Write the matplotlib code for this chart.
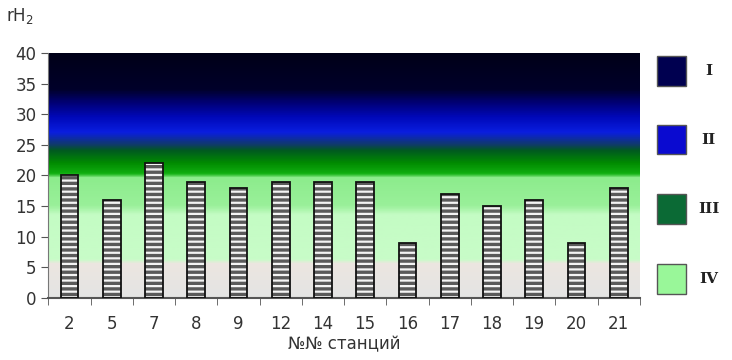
import numpy as np
import matplotlib
matplotlib.use("Agg")
import matplotlib.pyplot as plt
from matplotlib.colors import LinearSegmentedColormap
from matplotlib.patches import Rectangle

stations = ["2", "5", "7", "8", "9", "12", "14", "15", "16", "17", "18", "19", "20", "21"]
rh2 = [20, 16, 22, 19, 18, 19, 19, 19, 9, 17, 15, 16, 9, 18]
zone_labels = ["I", "II", "III", "IV"]
zone_colors = ["#000050", "#0a0ad0", "#0b6a35", "#99f799"]

# background gradient stops (rH2 value, colour)
grad_stops = [(0, "#e4e4e4"), (5.5, "#ece6e0"), (6.2, "#c8fcc8"), (13.5, "#c4fcc4"),
              (15, "#9af09a"), (19.6, "#8cec8c"), (20.2, "#10b010"), (22, "#008a00"),
              (24, "#005a20"), (25, "#103a6a"), (27, "#0a1ee0"), (29.5, "#0008b8"),
              (32, "#000070"), (34, "#00002a"), (40, "#000018")]

fig = plt.figure(figsize=(7.32, 3.6), dpi=100)
ax = fig.add_axes([0.066, 0.172, 0.808, 0.681])

x = np.arange(len(stations))
cmap = LinearSegmentedColormap.from_list("rh", [(v / 40, c) for v, c in grad_stops])
grad = np.linspace(0, 1, 400).reshape(-1, 1)
ax.imshow(grad, cmap=cmap, origin="lower", aspect="auto",
          extent=[-0.5, len(stations) - 0.5, 0, 40], zorder=0)

plt.rcParams["hatch.linewidth"] = 1.6
ax.bar(x, rh2, width=0.42, color="#5a5a5a", edgecolor="#f4f4f4", hatch="---", linewidth=0, zorder=2)
ax.bar(x, rh2, width=0.42, facecolor="none", edgecolor="#111111", linewidth=1.3, zorder=3)

ax.set_xlim(-0.5, len(stations) - 0.5)
ax.set_ylim(0, 40)
ax.set_yticks(range(0, 41, 5))
ax.set_xticks(x)
ax.set_xticklabels(stations)
ax.set_xticks(np.arange(-0.5, len(stations), 1), minor=True)
ax.tick_params(axis="x", which="major", length=0, pad=12, labelsize=12, labelcolor="#333333")
ax.tick_params(axis="x", which="minor", length=5, color="#555555")
ax.tick_params(axis="y", length=5, labelsize=12, labelcolor="#333333", color="#555555")
for s in ["top", "right"]:
    ax.spines[s].set_visible(False)
ax.spines["left"].set_color("#777777")
ax.spines["bottom"].set_color("#555555")
ax.spines["bottom"].set_linewidth(1.5)

ax.set_xlabel("№№ станций", fontsize=12, color="#333333", labelpad=2)
fig.text(0.008, 0.955, "rH$_2$", fontsize=12, color="#333333", va="center")

# legend squares on the right
leg_y = [0.802, 0.611, 0.419, 0.224]
for lab, col, yy in zip(zone_labels, zone_colors, leg_y):
    fig.patches.append(Rectangle((0.897, yy - 0.04), 0.04, 0.083, transform=fig.transFigure,
                                 facecolor=col, edgecolor="#555555", linewidth=1))
    fig.text(0.968, yy, lab, fontsize=11, fontweight="bold", family="DejaVu Serif",
             color="#222222", ha="center", va="center")

fig.savefig("out.png", dpi=100)
